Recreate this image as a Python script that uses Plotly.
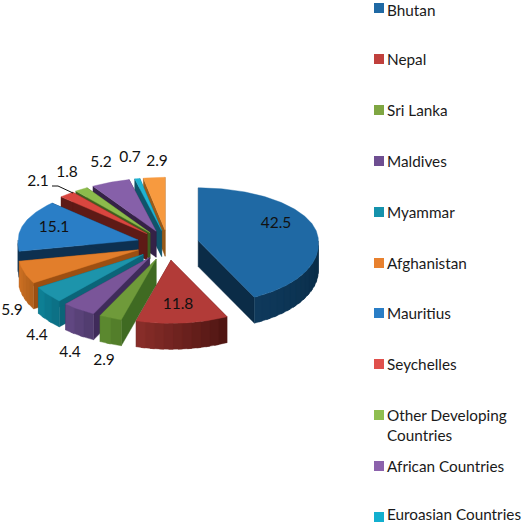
import numpy as np
import plotly.graph_objects as go

W, H = 526, 524
names = ["Bhutan", "Nepal", "Sri Lanka", "Maldives", "Myammar", "Afghanistan", "Mauritius",
         "Seychelles", "Other Developing<br>Countries", "African Countries", "Euroasian Countries", ""]
values = [42.5, 11.8, 2.9, 4.4, 4.4, 5.9, 15.1, 2.1, 1.8, 5.2, 0.7, 2.9]
top_colors = ["#1F69A4", "#B23B38", "#6F9A3A", "#7A5599", "#1D94AB", "#E27E2B",
              "#2A7EC6", "#D9463F", "#8CBB4C", "#8660A9", "#1FB3D1", "#F79A3F"]
legend_colors = ["#1F69A4", "#C0403C", "#7FA642", "#6E4E91", "#1592AC", "#E8812E",
                 "#2A7EC6", "#E0504C", "#8FBE50", "#8C62AC", "#12AFCF"]
wall_start = ["#0F3A5C", "#8A2E2A", "#5F8C31", "#634A85", "#0E8298", "#D07224",
              "#10395E", "#6B1E1A", "#48702A", "#3D2852", "#125B72", "#A56220"]
wall_end = ["#082A45", "#4E1512", "#4F7A28", "#4F3A6C", "#0B6E82", "#B0601C",
            "#0D3050", "#551613", "#3E5E20", "#30203F", "#0E4A5E", "#8E5218"]
cut_colors = ["#0B2C47", "#5A1A17", "#3F6A22", "#3F2B5A", "#0B6478", "#9C4F12",
              "#0D3050", "#5E1A16", "#3F5E1F", "#352247", "#10546A", "#9A5A18"]
label_text = ["42.5", "11.8", "2.9", "4.4", "4.4", "5.9", "15.1", "2.1", "1.8", "5.2", "0.7", "2.9"]
label_x = [276, 178, 104, 70, 37, 12, 54, 38, 67, 101, 130, 157]
label_y = [224, 305, 361, 353, 336, 311, 228, 182, 173, 163, 158, 162]
legend_y = [8, 59, 110, 161, 212, 263, 313, 364, 415, 466, 517]
leader_x = [52, 58, 73]
leader_y = [186, 186, 193]

CX, CY, RX, RY_BACK, RY_FRONT, DEPTH, PULL = 168, 244, 120, 53, 63, 26, 0.26
FONT = "Lato, Carlito, 'Open Sans', sans-serif"


def unit(deg):
    """Offset on the flattened, slightly perspective ellipse; angle clockwise from 12 o'clock."""
    t = np.radians(deg)
    c = np.cos(t)
    ry = np.where(c > 0, RY_BACK, RY_FRONT)
    rx = RX * (1 + 0.05 * np.maximum(0, -c))
    return rx * np.sin(t), -ry * c


def mix(a, b, f):
    pa = [int(a[i:i + 2], 16) for i in (1, 3, 5)]
    pb = [int(b[i:i + 2], 16) for i in (1, 3, 5)]
    return "rgb(%d,%d,%d)" % tuple(round(p + (q - p) * f) for p, q in zip(pa, pb))


def poly(fig, xs, ys, color, name):
    fig.add_trace(go.Scatter(x=list(xs), y=list(ys), mode="lines", fill="toself", fillcolor=color,
                             line=dict(color=color, width=0.4), hoverinfo="text", text=name,
                             showlegend=False))


fig = go.Figure()
total = sum(values)
edges = np.concatenate([[0], np.cumsum(values)]) / total * 360
mids = (edges[:-1] + edges[1:]) / 2
order = sorted(range(len(values)), key=lambda i: -np.cos(np.radians(mids[i])))
for i in order:
    a0, a1 = edges[i], edges[i + 1]
    ox, oy = unit(mids[i])
    ax, ay = CX + PULL * ox, CY + PULL * oy
    nm = names[i].replace("<br>", " ")
    # cut faces
    for a in (a0, a1):
        ux, uy = unit(a)
        poly(fig, [ax, ax + ux, ax + ux, ax, ax], [ay, ay + uy, ay + uy + DEPTH, ay + DEPTH, ay],
             cut_colors[i], nm)
    # outer wall, front half only; segments overlap so that no seams show
    lo, hi = max(a0, 90), min(a1, 270)
    if hi > lo:
        n = max(2, int((hi - lo) / 4))
        steps = np.linspace(lo, hi, n + 1)
        for k in range(n):
            th = np.linspace(steps[k], hi if k == n - 1 else min(hi, steps[k + 1] + 2), 5)
            ux, uy = unit(th)
            px, py = ax + ux, ay + uy
            col = mix(wall_start[i], wall_end[i], 1 - (k + 0.5) / n)
            poly(fig, np.r_[px, px[::-1], px[0]], np.r_[py, py[::-1] + DEPTH, py[0]], col, nm)
    # top
    th = np.linspace(a0, a1, max(3, int(a1 - a0) + 2))
    ux, uy = unit(th)
    poly(fig, np.r_[ax, ax + ux, ax], np.r_[ay, ay + uy, ay], top_colors[i], nm)

fig.add_trace(go.Scatter(x=leader_x, y=leader_y, mode="lines", line=dict(color="#111111", width=1),
                         hoverinfo="skip", showlegend=False))
fig.add_trace(go.Scatter(x=label_x, y=label_y, mode="text", text=label_text, textposition="middle center",
                         textfont=dict(family=FONT, size=15.5, color="#111111"), hoverinfo="skip",
                         showlegend=False))
fig.add_trace(go.Scatter(x=[379] * len(legend_y), y=legend_y, mode="markers",
                         marker=dict(symbol="square", size=10, color=legend_colors, line=dict(width=0)),
                         hoverinfo="skip", showlegend=False))
annotations = []
for name, y in zip(names, legend_y):
    for j, line in enumerate(name.split("<br>")):
        annotations.append(dict(x=388, y=float(np.clip(y + 20 * j, 10, 514)), xref="x", yref="y", text=line,
                                showarrow=False, xanchor="left", yanchor="middle", align="left", borderpad=0,
                                font=dict(family=FONT, size=15.3, color="#1A1A1A"), xshift=-2))
fig.update_layout(width=W, height=H, margin=dict(l=0, r=0, t=0, b=0), autosize=False,
                  paper_bgcolor="white", plot_bgcolor="white", annotations=annotations, showlegend=False,
                  xaxis=dict(range=[0, W], visible=False, fixedrange=True),
                  yaxis=dict(range=[H, 0], visible=False, fixedrange=True))
fig.write_html("out.html", config=dict(displayModeBar=False),
               post_script="document.body.style.margin='0';document.documentElement.style.overflow='hidden';")
